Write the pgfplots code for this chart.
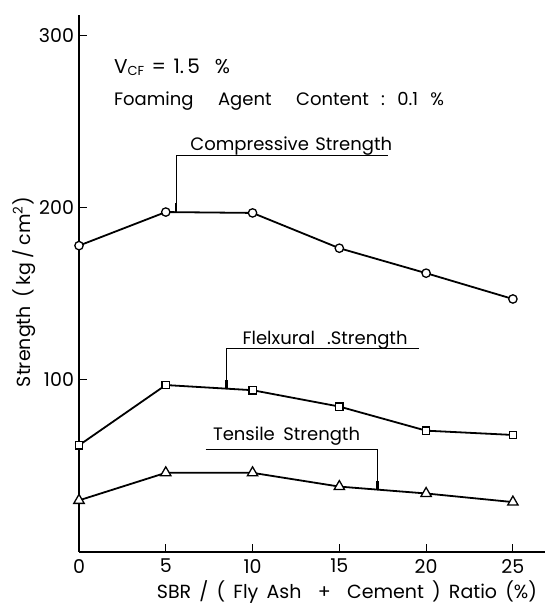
\documentclass[border=0pt]{standalone}
\usepackage{fontspec}
\setmainfont{Poppins}
\usepackage{pgfplots}
\pgfplotsset{compat=1.18}
\begin{document}
\begin{tikzpicture}
\begin{axis}[
  name=ax,
  scale only axis,
  width=233pt, height=268.5pt,
  xmin=0, xmax=26.85, ymin=0, ymax=312,
  axis x line*=bottom, axis y line*=left,
  axis line style={line width=0.7pt,-},
  xtick={0,5,10,15,20,25}, ytick={100,200,300},
  tick align=inside, major tick length=4pt,
  tick style={line width=0.6pt, black},
  ticklabel style={font=\fontsize{9.5}{10}\selectfont},
  /pgf/number format/assume math mode=true,
  xticklabel style={yshift=0pt},
  yticklabel style={xshift=1pt},
  clip=false,
]
\addplot[black, line width=0.9pt, mark=*, mark size=2.1pt,
  mark options={fill=white, line width=0.65pt}]
  coordinates {(0,178) (5,197.5) (10,197) (15,176.5) (20,162) (25,147)};
\addplot[black, line width=0.9pt, mark=square*, mark size=1.85pt,
  mark options={fill=white, line width=0.65pt}]
  coordinates {(0,62) (5,97) (10,94) (15,84.5) (20,70.5) (25,68)};
\addplot[black, line width=0.9pt, mark=triangle*, mark size=3pt,
  mark options={fill=white, line width=0.65pt}]
  coordinates {(0,30) (5,46) (10,46) (15,38) (20,34) (25,29)};

% annotations
\draw[line width=0.45pt] (axis cs:5.6,197.5) -- (axis cs:5.6,230.5) -- (axis cs:17.8,230.5);
\draw[line width=1.3pt] (axis cs:5.6,197.5) -- (axis cs:5.6,203);
\node[anchor=base west, inner sep=0pt, font=\fontsize{9}{11}\selectfont]
  at (axis cs:6.4,233) {\makebox[92pt][s]{Compressive\ \ Strength}};

\draw[line width=0.45pt] (axis cs:8.5,95.3) -- (axis cs:8.5,118.2) -- (axis cs:19.6,118.2);
\draw[line width=1.3pt] (axis cs:8.5,95.3) -- (axis cs:8.5,100);
\node[anchor=base west, inner sep=0pt, font=\fontsize{9}{11}\selectfont]
  at (axis cs:9.4,120.6) {\makebox[82.5pt][s]{Flelxural\ \ .Strength}};

\draw[line width=0.45pt] (axis cs:7.3,59.4) -- (axis cs:17.2,59.4) -- (axis cs:17.2,36.4);
\draw[line width=1.3pt] (axis cs:17.2,36.4) -- (axis cs:17.2,41);
\node[anchor=base west, inner sep=0pt, font=\fontsize{9}{11}\selectfont]
  at (axis cs:7.7,65) {\makebox[73.5pt][s]{Tensile\ \ Strength}};

\node[anchor=base west, inner sep=0pt, font=\fontsize{10}{11}\selectfont]
  at (axis cs:2.0,278) {\makebox[58pt][s]{V\raisebox{-1.2pt}{\fontsize{6.5}{7}\selectfont CF}\ =\ 1.\,5\ \ \%}};
\node[anchor=base west, inner sep=0pt, font=\fontsize{9}{11}\selectfont]
  at (axis cs:2.0,259.5) {\makebox[165pt][s]{Foaming\ \ Agent\ \ Content\ :\ 0.1\ \%}};

% axis labels
\node[rotate=90, anchor=center, inner sep=0pt, font=\fontsize{9.5}{11}\selectfont]
  at (rel axis cs:-0.118,0.484) {\makebox[95pt][s]{Strength\ \ (\ kg\ /\ cm\textsuperscript{2})}};
\node[anchor=center, inner sep=0pt, font=\fontsize{9.5}{11}\selectfont]
  at (rel axis cs:0.575,-0.0745) {\makebox[190pt][s]{SBR\ /\ (\ Fly\ Ash\ \ +\ \ Cement\ )\ Ratio\ (\%)}};
\end{axis}
\pgfresetboundingbox
\path (-39.5pt,-26pt) rectangle (236pt,276pt);
\end{tikzpicture}
\end{document}
